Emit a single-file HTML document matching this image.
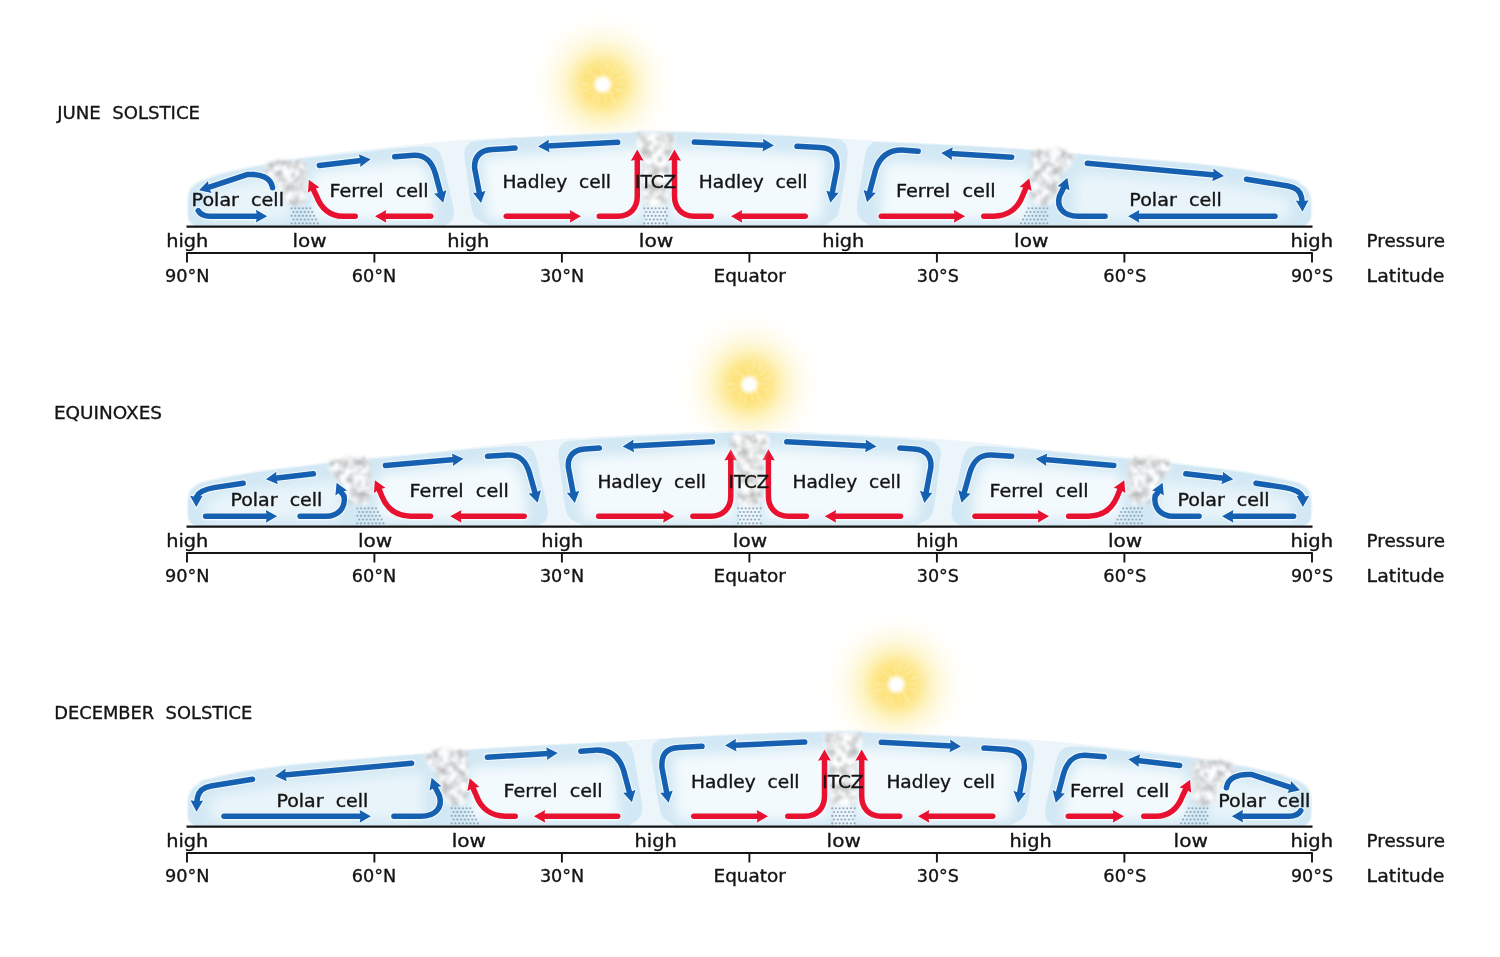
<!DOCTYPE html>
<html lang="en"><head><meta charset="utf-8"><title>Atmospheric circulation cells</title>
<style>html,body{margin:0;padding:0;background:#fff;}body{width:1500px;height:957px;overflow:hidden;}svg{display:block;}</style>
</head><body>
<svg width="1500" height="957" viewBox="0 0 1500 957" font-family="'DejaVu Sans','Liberation Sans',sans-serif">
<defs>
<radialGradient id="sunG" cx="0.5" cy="0.5" r="0.5">
<stop offset="0" stop-color="#fddf6c" stop-opacity="1"/>
<stop offset="0.17" stop-color="#fde071" stop-opacity="1"/>
<stop offset="0.3" stop-color="#fde47d" stop-opacity="0.85"/>
<stop offset="0.45" stop-color="#fdea93" stop-opacity="0.56"/>
<stop offset="0.62" stop-color="#feefaa" stop-opacity="0.3"/>
<stop offset="0.8" stop-color="#fef4c2" stop-opacity="0.12"/>
<stop offset="1" stop-color="#fff8d8" stop-opacity="0"/>
</radialGradient>
<radialGradient id="sunC" cx="0.5" cy="0.5" r="0.5">
<stop offset="0" stop-color="#fff" stop-opacity="1"/>
<stop offset="0.45" stop-color="#fff" stop-opacity="1"/>
<stop offset="0.7" stop-color="#fff" stop-opacity="0.6"/>
<stop offset="1" stop-color="#fff" stop-opacity="0"/>
</radialGradient>
<filter id="b06" x="-20%" y="-20%" width="140%" height="140%"><feGaussianBlur stdDeviation="0.9"/></filter>
<filter id="b1" x="-30%" y="-30%" width="160%" height="160%"><feGaussianBlur stdDeviation="1.5"/></filter>
<filter id="b2" x="-30%" y="-30%" width="160%" height="160%"><feGaussianBlur stdDeviation="2.2"/></filter>
<filter id="cl" x="-30%" y="-30%" width="160%" height="160%" color-interpolation-filters="sRGB"><feGaussianBlur in="SourceAlpha" stdDeviation="2.2" result="a"/><feTurbulence type="fractalNoise" baseFrequency="0.12" numOctaves="2" seed="7" result="n"/><feColorMatrix in="n" type="matrix" values="0.6 0 0 0 0.6  0.6 0 0 0 0.6  0.6 0 0 0 0.6  0 0 0 0 1" result="g"/><feGaussianBlur in="g" stdDeviation="1.1" result="gb"/><feComposite in="gb" in2="a" operator="in"/></filter>
<filter id="b6" x="-30%" y="-50%" width="160%" height="200%"><feGaussianBlur stdDeviation="6"/></filter>
<g id="g1">
<path d="M198,225.7 C190.5,225.7 186.8,221.7 186.8,213.7 L186.8,205 C186.9,203.3 186.8,197.9 187.4,195.0 C188.0,192.1 188.6,189.7 190.2,187.5 C191.8,185.3 194.0,183.3 197.0,181.6 C200.0,179.8 203.8,178.6 208.0,177.0 C212.2,175.4 215.0,174.1 222.0,172.3 C229.0,170.5 242.5,167.7 250.0,166.2 C257.5,164.7 255.8,165.3 267.0,163.4 C278.2,161.5 294.8,157.9 317.0,155.0 C339.2,152.1 375.6,148.5 400.0,146.0 C424.4,143.5 439.1,141.8 463.6,140.0 C488.1,138.2 519.3,136.8 547.0,135.4 C574.7,134.0 612.0,132.1 630.0,131.3 C648.0,130.5 645.0,130.6 655.0,130.6 C665.0,130.6 671.3,130.7 690.0,131.3 C708.7,131.9 740.3,132.7 767.0,134.0 C793.7,135.3 831.2,137.8 850.0,139.0 C868.8,140.2 855.5,139.7 880.0,141.0 C904.5,142.3 963.2,144.6 997.0,146.7 C1030.8,148.8 1046.3,150.3 1083.0,153.4 C1119.7,156.5 1182.8,161.0 1217.0,165.0 C1251.2,169.0 1273.8,174.1 1288.0,177.2 C1302.2,180.3 1298.4,181.2 1302.0,183.5 C1305.6,185.8 1307.8,188.1 1309.5,191.0 C1311.2,193.9 1311.8,199.3 1312.3,201.0 L1312.3,213.7 C1312.3,221.7 1308.5,225.7 1301,225.7 Z" fill="#ecf5fa"/>
<clipPath id="cp1"><path d="M199,225.7 C192,225.7 188.3,221.7 188.3,213.7 L188.3,205 C188.4,203.5 188.4,198.7 188.9,196.0 C189.4,193.3 190.1,191.1 191.6,189.0 C193.1,186.9 195.1,185.0 198.0,183.3 C200.9,181.6 205.0,180.3 209.0,178.8 C213.0,177.3 215.2,176.0 222.0,174.2 C228.8,172.4 242.5,169.5 250.0,168.0 C257.5,166.5 259.3,166.4 267.0,165.2 C274.7,163.9 291.2,161.3 296.0,160.5 L296,225.7 Z"/></clipPath><path d="M199,225.7 C192,225.7 188.3,221.7 188.3,213.7 L188.3,205 C188.4,203.5 188.4,198.7 188.9,196.0 C189.4,193.3 190.1,191.1 191.6,189.0 C193.1,186.9 195.1,185.0 198.0,183.3 C200.9,181.6 205.0,180.3 209.0,178.8 C213.0,177.3 215.2,176.0 222.0,174.2 C228.8,172.4 242.5,169.5 250.0,168.0 C257.5,166.5 259.3,166.4 267.0,165.2 C274.7,163.9 291.2,161.3 296.0,160.5 L296,225.7 Z" fill="#d2e8f4"/><g clip-path="url(#cp1)"><path d="M206,219.7 L206,196 L232,185 L290,176 L290,219.7 Z" fill="#fcfeff" opacity="0.55" filter="url(#b6)"/></g>
<clipPath id="cp2"><path d="M296,225.7 L296,160 C299.5,159.5 299.7,159.0 317.0,157.0 C334.3,155.0 382.2,149.9 400.0,148.2 C417.8,146.5 418.0,146.5 424.0,146.6 C430.0,146.7 433.0,147.1 436.0,149.0 C439.0,150.9 440.2,152.8 442.0,158.0 C443.8,163.2 445.1,171.7 447.0,180.0 C448.9,188.3 452.7,201.3 453.5,208.0 C454.3,214.7 453.6,217.1 452.0,220.0 C450.4,222.9 445.3,224.8 444.0,225.7 Z"/></clipPath><path d="M296,225.7 L296,160 C299.5,159.5 299.7,159.0 317.0,157.0 C334.3,155.0 382.2,149.9 400.0,148.2 C417.8,146.5 418.0,146.5 424.0,146.6 C430.0,146.7 433.0,147.1 436.0,149.0 C439.0,150.9 440.2,152.8 442.0,158.0 C443.8,163.2 445.1,171.7 447.0,180.0 C448.9,188.3 452.7,201.3 453.5,208.0 C454.3,214.7 453.6,217.1 452.0,220.0 C450.4,222.9 445.3,224.8 444.0,225.7 Z" fill="#d2e8f4"/><g clip-path="url(#cp2)"><path d="M312,219.7 L312,172 L420,162 L430,180 L436,219.7 Z" fill="#fcfeff" opacity="0.80" filter="url(#b6)"/></g>
<clipPath id="cp3"><path d="M645,225.7 L490,225.7 C487.7,224.4 479.2,221.4 476.0,218.0 C472.8,214.6 472.6,213.0 471.0,205.0 C469.4,197.0 467.6,178.8 466.5,170.0 C465.4,161.2 464.1,156.3 464.5,152.0 C464.9,147.7 466.4,145.9 469.0,144.0 C471.6,142.1 467.0,141.9 480.0,140.7 C493.0,139.5 522.0,137.9 547.0,136.6 C572.0,135.3 613.7,133.7 630.0,133.0 C646.3,132.3 642.5,132.6 645.0,132.5 Z"/></clipPath><path d="M645,225.7 L490,225.7 C487.7,224.4 479.2,221.4 476.0,218.0 C472.8,214.6 472.6,213.0 471.0,205.0 C469.4,197.0 467.6,178.8 466.5,170.0 C465.4,161.2 464.1,156.3 464.5,152.0 C464.9,147.7 466.4,145.9 469.0,144.0 C471.6,142.1 467.0,141.9 480.0,140.7 C493.0,139.5 522.0,137.9 547.0,136.6 C572.0,135.3 613.7,133.7 630.0,133.0 C646.3,132.3 642.5,132.6 645.0,132.5 Z" fill="#d2e8f4"/><g clip-path="url(#cp3)"><path d="M488,219.7 L483,158 L642,148 L642,219.7 Z" fill="#fcfeff" opacity="0.80" filter="url(#b6)"/></g>
<clipPath id="cp4"><path d="M665,225.7 L665,132.5 C669.2,132.5 673.0,132.2 690.0,132.6 C707.0,133.0 743.7,134.2 767.0,135.2 C790.3,136.2 817.3,137.4 830.0,138.5 C842.7,139.6 840.1,139.8 843.0,142.0 C845.9,144.2 847.2,146.5 847.5,152.0 C847.8,157.5 846.2,166.2 845.0,175.0 C843.8,183.8 841.5,198.0 840.0,205.0 C838.5,212.0 838.7,213.6 836.0,217.0 C833.3,220.4 826.0,224.2 824.0,225.7 Z"/></clipPath><path d="M665,225.7 L665,132.5 C669.2,132.5 673.0,132.2 690.0,132.6 C707.0,133.0 743.7,134.2 767.0,135.2 C790.3,136.2 817.3,137.4 830.0,138.5 C842.7,139.6 840.1,139.8 843.0,142.0 C845.9,144.2 847.2,146.5 847.5,152.0 C847.8,157.5 846.2,166.2 845.0,175.0 C843.8,183.8 841.5,198.0 840.0,205.0 C838.5,212.0 838.7,213.6 836.0,217.0 C833.3,220.4 826.0,224.2 824.0,225.7 Z" fill="#d2e8f4"/><g clip-path="url(#cp4)"><path d="M669,219.7 L669,148 L826,156 L822,219.7 Z" fill="#fcfeff" opacity="0.80" filter="url(#b6)"/></g>
<clipPath id="cp5"><path d="M1045,225.7 L870,225.7 C868.3,224.4 862.2,221.3 860.0,218.0 C857.8,214.7 856.7,213.2 857.0,206.0 C857.3,198.8 860.5,184.0 862.0,175.0 C863.5,166.0 864.3,157.2 866.0,152.0 C867.7,146.8 869.0,145.6 872.0,144.0 C875.0,142.4 863.2,141.6 884.0,142.3 C904.8,143.0 970.2,146.5 997.0,148.0 C1023.8,149.5 1037.0,150.9 1045.0,151.5 Z"/></clipPath><path d="M1045,225.7 L870,225.7 C868.3,224.4 862.2,221.3 860.0,218.0 C857.8,214.7 856.7,213.2 857.0,206.0 C857.3,198.8 860.5,184.0 862.0,175.0 C863.5,166.0 864.3,157.2 866.0,152.0 C867.7,146.8 869.0,145.6 872.0,144.0 C875.0,142.4 863.2,141.6 884.0,142.3 C904.8,143.0 970.2,146.5 997.0,148.0 C1023.8,149.5 1037.0,150.9 1045.0,151.5 Z" fill="#d2e8f4"/><g clip-path="url(#cp5)"><path d="M880,219.7 L885,162 L1030,168 L1030,219.7 Z" fill="#fcfeff" opacity="0.80" filter="url(#b6)"/></g>
<clipPath id="cp6"><path d="M1045,225.7 L1045,152 C1051.3,152.5 1054.3,152.4 1083.0,154.8 C1111.7,157.2 1183.0,162.5 1217.0,166.5 C1251.0,170.5 1273.1,175.6 1287.0,178.7 C1300.9,181.8 1297.0,182.6 1300.5,184.8 C1304.0,187.0 1306.3,189.1 1308.0,192.0 C1309.7,194.9 1310.3,200.3 1310.8,202.0 L1310.8,213.7 C1310.8,221.7 1307,225.7 1300,225.7 Z"/></clipPath><path d="M1045,225.7 L1045,152 C1051.3,152.5 1054.3,152.4 1083.0,154.8 C1111.7,157.2 1183.0,162.5 1217.0,166.5 C1251.0,170.5 1273.1,175.6 1287.0,178.7 C1300.9,181.8 1297.0,182.6 1300.5,184.8 C1304.0,187.0 1306.3,189.1 1308.0,192.0 C1309.7,194.9 1310.3,200.3 1310.8,202.0 L1310.8,213.7 C1310.8,221.7 1307,225.7 1300,225.7 Z" fill="#d2e8f4"/><g clip-path="url(#cp6)"><path d="M1075,219.7 L1075,172 L1220,184 L1290,197 L1290,219.7 Z" fill="#fcfeff" opacity="0.55" filter="url(#b6)"/></g>
<g fill="#8faabd"><circle cx="291.6" cy="208.3" r="1.1"/><circle cx="295.3" cy="208.3" r="1.1"/><circle cx="299.1" cy="208.3" r="1.1"/><circle cx="302.8" cy="208.3" r="1.1"/><circle cx="306.6" cy="208.3" r="1.1"/><circle cx="310.3" cy="208.3" r="1.1"/><circle cx="293.5" cy="212.0" r="1.1"/><circle cx="297.2" cy="212.0" r="1.1"/><circle cx="301.0" cy="212.0" r="1.1"/><circle cx="304.7" cy="212.0" r="1.1"/><circle cx="308.4" cy="212.0" r="1.1"/><circle cx="312.2" cy="212.0" r="1.1"/><circle cx="291.6" cy="215.8" r="1.1"/><circle cx="295.3" cy="215.8" r="1.1"/><circle cx="299.1" cy="215.8" r="1.1"/><circle cx="302.8" cy="215.8" r="1.1"/><circle cx="306.6" cy="215.8" r="1.1"/><circle cx="310.3" cy="215.8" r="1.1"/><circle cx="314.0" cy="215.8" r="1.1"/><circle cx="293.5" cy="219.5" r="1.1"/><circle cx="297.2" cy="219.5" r="1.1"/><circle cx="301.0" cy="219.5" r="1.1"/><circle cx="304.7" cy="219.5" r="1.1"/><circle cx="308.4" cy="219.5" r="1.1"/><circle cx="312.2" cy="219.5" r="1.1"/><circle cx="315.9" cy="219.5" r="1.1"/><circle cx="291.6" cy="223.3" r="1.1"/><circle cx="295.3" cy="223.3" r="1.1"/><circle cx="299.1" cy="223.3" r="1.1"/><circle cx="302.8" cy="223.3" r="1.1"/><circle cx="306.6" cy="223.3" r="1.1"/><circle cx="310.3" cy="223.3" r="1.1"/><circle cx="314.0" cy="223.3" r="1.1"/><circle cx="317.8" cy="223.3" r="1.1"/></g>
<g fill="#8faabd"><circle cx="644.4" cy="208.3" r="1.1"/><circle cx="648.1" cy="208.3" r="1.1"/><circle cx="651.9" cy="208.3" r="1.1"/><circle cx="655.6" cy="208.3" r="1.1"/><circle cx="659.4" cy="208.3" r="1.1"/><circle cx="663.1" cy="208.3" r="1.1"/><circle cx="666.8" cy="208.3" r="1.1"/><circle cx="646.3" cy="212.0" r="1.1"/><circle cx="650.0" cy="212.0" r="1.1"/><circle cx="653.8" cy="212.0" r="1.1"/><circle cx="657.5" cy="212.0" r="1.1"/><circle cx="661.2" cy="212.0" r="1.1"/><circle cx="665.0" cy="212.0" r="1.1"/><circle cx="644.4" cy="215.8" r="1.1"/><circle cx="648.1" cy="215.8" r="1.1"/><circle cx="651.9" cy="215.8" r="1.1"/><circle cx="655.6" cy="215.8" r="1.1"/><circle cx="659.4" cy="215.8" r="1.1"/><circle cx="663.1" cy="215.8" r="1.1"/><circle cx="666.8" cy="215.8" r="1.1"/><circle cx="646.3" cy="219.5" r="1.1"/><circle cx="650.0" cy="219.5" r="1.1"/><circle cx="653.8" cy="219.5" r="1.1"/><circle cx="657.5" cy="219.5" r="1.1"/><circle cx="661.2" cy="219.5" r="1.1"/><circle cx="665.0" cy="219.5" r="1.1"/><circle cx="644.4" cy="223.3" r="1.1"/><circle cx="648.1" cy="223.3" r="1.1"/><circle cx="651.9" cy="223.3" r="1.1"/><circle cx="655.6" cy="223.3" r="1.1"/><circle cx="659.4" cy="223.3" r="1.1"/><circle cx="663.1" cy="223.3" r="1.1"/><circle cx="666.8" cy="223.3" r="1.1"/></g>
<g fill="#8faabd"><circle cx="1028.6" cy="208.3" r="1.1"/><circle cx="1032.3" cy="208.3" r="1.1"/><circle cx="1036.1" cy="208.3" r="1.1"/><circle cx="1039.8" cy="208.3" r="1.1"/><circle cx="1043.6" cy="208.3" r="1.1"/><circle cx="1047.3" cy="208.3" r="1.1"/><circle cx="1026.7" cy="212.0" r="1.1"/><circle cx="1030.5" cy="212.0" r="1.1"/><circle cx="1034.2" cy="212.0" r="1.1"/><circle cx="1037.9" cy="212.0" r="1.1"/><circle cx="1041.7" cy="212.0" r="1.1"/><circle cx="1045.4" cy="212.0" r="1.1"/><circle cx="1024.9" cy="215.8" r="1.1"/><circle cx="1028.6" cy="215.8" r="1.1"/><circle cx="1032.3" cy="215.8" r="1.1"/><circle cx="1036.1" cy="215.8" r="1.1"/><circle cx="1039.8" cy="215.8" r="1.1"/><circle cx="1043.6" cy="215.8" r="1.1"/><circle cx="1047.3" cy="215.8" r="1.1"/><circle cx="1023.0" cy="219.5" r="1.1"/><circle cx="1026.7" cy="219.5" r="1.1"/><circle cx="1030.5" cy="219.5" r="1.1"/><circle cx="1034.2" cy="219.5" r="1.1"/><circle cx="1037.9" cy="219.5" r="1.1"/><circle cx="1041.7" cy="219.5" r="1.1"/><circle cx="1045.4" cy="219.5" r="1.1"/><circle cx="1021.1" cy="223.3" r="1.1"/><circle cx="1024.9" cy="223.3" r="1.1"/><circle cx="1028.6" cy="223.3" r="1.1"/><circle cx="1032.3" cy="223.3" r="1.1"/><circle cx="1036.1" cy="223.3" r="1.1"/><circle cx="1039.8" cy="223.3" r="1.1"/><circle cx="1043.6" cy="223.3" r="1.1"/><circle cx="1047.3" cy="223.3" r="1.1"/></g>
<path d="M306.5,164.0 L300.5,159.0 L291.5,161.0 L281.5,160.0 L269.5,162.0 L263.5,167.0 L266.5,175.0 L275.5,184.0 L281.5,191.5 L285.5,202.5 L293.5,205.5 L303.5,204.5 L307.5,193.5 L307.5,178.0Z" fill="#ddd" filter="url(#cl)" opacity="0.92"/>
<path d="M636.2,137.0 L639.7,132.3 L648.7,133.0 L655.7,134.5 L662.7,133.0 L671.7,132.3 L675.2,137.0 L674.7,145.0 L670.7,153.0 L668.2,162.0 L668.7,200.0 L663.7,205.5 L647.7,205.5 L642.7,200.0 L643.2,162.0 L640.7,153.0 L636.7,145.0Z" fill="#ddd" filter="url(#cl)" opacity="0.92"/>
<path d="M1032.0,152.5 L1038.0,147.5 L1047.0,149.5 L1057.0,148.5 L1069.0,150.5 L1075.0,155.5 L1072.0,163.5 L1063.0,172.5 L1057.0,191.5 L1053.0,202.5 L1045.0,205.5 L1035.0,204.5 L1031.0,193.5 L1031.0,166.5Z" fill="#ddd" filter="url(#cl)" opacity="0.92"/>
<g fill="#f4fafd" stroke="#f4fafd" stroke-linecap="round" stroke-linejoin="round" opacity="0.92"><path d="M272.6,187.7 C271,178 261,173.3 247,174.6 L207.9,187.6" fill="none" stroke-width="7.7"/><path d="M199.0,190.3 L208.0,181.0 L208.7,187.4 L211.6,193.1 Z" stroke-width="2"/><path d="M198.2,210.6 C200,214 204,216.2 210,216.2 L257.9,216.2" fill="none" stroke-width="7.7"/><path d="M267.2,216.2 L255.9,222.5 L257.1,216.2 L255.9,209.8 Z" stroke-width="2"/><path d="M319.3,165.4 L361.5,160.4" fill="none" stroke-width="7.7"/><path d="M370.7,159.3 L360.2,166.9 L360.7,160.5 L358.7,154.3 Z" stroke-width="2"/><path d="M394.7,156.7 L414,155.3 C426,155 432,162 435.5,174 L440.8,193.7" fill="none" stroke-width="7.7"/><path d="M443.2,202.7 L434.1,193.4 L440.6,192.9 L446.4,190.1 Z" stroke-width="2"/><path d="M430.7,216.3 L384.3,216.3" fill="none" stroke-width="7.7"/><path d="M375.0,216.3 L386.3,210.0 L385.1,216.3 L386.3,222.7 Z" stroke-width="2"/><path d="M355.2,216.3 L343,216.3 C330,216 321,208 316.5,196 L312.8,188.2" fill="none" stroke-width="7.7"/><path d="M308.9,179.8 L319.4,187.4 L313.2,189.0 L307.9,192.7 Z" stroke-width="2"/><path d="M515.0,148.1 L492,149.4 C480.5,150.2 474.2,156 474.6,168 L479.5,193.8" fill="none" stroke-width="7.7"/><path d="M481.0,203.0 L473.0,192.8 L479.4,193.0 L485.5,190.8 Z" stroke-width="2"/><path d="M617.7,142.3 L547.3,146.0" fill="none" stroke-width="7.7"/><path d="M538.0,146.5 L548.9,139.6 L548.1,146.0 L549.6,152.2 Z" stroke-width="2"/><path d="M506.3,216.3 L571.7,216.3" fill="none" stroke-width="7.7"/><path d="M581.0,216.3 L569.7,222.7 L570.9,216.3 L569.7,210.0 Z" stroke-width="2"/><path d="M599.3,216.3 L618,216.3 C630,216.3 637.3,208 637.3,196 L637.3,158.7" fill="none" stroke-width="7.7"/><path d="M637.3,149.4 L643.6,160.7 L637.3,159.5 L630.9,160.7 Z" stroke-width="2"/><path d="M711.2,216.3 L694,216.3 C682,216.3 674.5,208 674.5,196 L674.5,158.7" fill="none" stroke-width="7.7"/><path d="M674.5,149.4 L680.9,160.7 L674.5,159.5 L668.1,160.7 Z" stroke-width="2"/><path d="M805.2,216.3 L740.3,216.3" fill="none" stroke-width="7.7"/><path d="M731.0,216.3 L742.3,210.0 L741.1,216.3 L742.3,222.7 Z" stroke-width="2"/><path d="M694.3,142.1 L764.7,145.2" fill="none" stroke-width="7.7"/><path d="M774.0,145.6 L762.4,151.4 L763.9,145.2 L763.0,138.8 Z" stroke-width="2"/><path d="M797.0,146.3 L820,147.5 C833,148 838,155 837,168 L832.1,193.6" fill="none" stroke-width="7.7"/><path d="M830.4,202.7 L826.3,190.4 L832.3,192.8 L838.7,192.8 Z" stroke-width="2"/><path d="M918.2,151.3 L905,150.2 C890,149.2 880,156 875.5,170 L869.3,193.2" fill="none" stroke-width="7.7"/><path d="M867.1,202.2 L863.5,189.7 L869.4,192.4 L875.9,192.7 Z" stroke-width="2"/><path d="M1011.7,157.2 L950.5,153.5" fill="none" stroke-width="7.7"/><path d="M941.2,152.9 L952.9,147.3 L951.3,153.5 L952.1,159.9 Z" stroke-width="2"/><path d="M881.3,216.3 L955.8,216.3" fill="none" stroke-width="7.7"/><path d="M965.1,216.3 L953.8,222.7 L955.0,216.3 L953.8,210.0 Z" stroke-width="2"/><path d="M983.8,216.3 L994,216.2 C1008,216 1018,208 1022.5,196 L1026.3,187.1" fill="none" stroke-width="7.7"/><path d="M1029.3,178.3 L1031.6,191.1 L1026.0,187.8 L1019.6,186.9 Z" stroke-width="2"/><path d="M1105.1,216.3 L1078,216.3 C1064,216.3 1056,208 1059.5,196 L1064.2,186.5" fill="none" stroke-width="7.7"/><path d="M1067.4,177.8 L1069.5,190.6 L1063.9,187.3 L1057.6,186.2 Z" stroke-width="2"/><path d="M1275.0,216.3 L1137.4,216.3" fill="none" stroke-width="7.7"/><path d="M1128.1,216.3 L1139.4,210.0 L1138.2,216.3 L1139.4,222.7 Z" stroke-width="2"/><path d="M1087.3,163.2 L1214.7,175.1" fill="none" stroke-width="7.7"/><path d="M1224.0,176.0 L1212.2,181.3 L1213.9,175.1 L1213.3,168.6 Z" stroke-width="2"/><path d="M1246.5,179.2 L1288,186 C1295,187.3 1300,190.5 1301.4,197 L1302.2,202.4" fill="none" stroke-width="7.7"/><path d="M1302.5,211.7 L1295.8,200.6 L1302.1,201.6 L1308.5,200.2 Z" stroke-width="2"/></g>
<g fill="none" stroke="#1660b2" stroke-width="5.5" stroke-linecap="round" stroke-linejoin="round"><path d="M272.6,187.7 C271,178 261,173.3 247,174.6 L207.9,187.6"/><path d="M198.2,210.6 C200,214 204,216.2 210,216.2 L257.9,216.2"/><path d="M319.3,165.4 L361.5,160.4"/><path d="M394.7,156.7 L414,155.3 C426,155 432,162 435.5,174 L440.8,193.7"/><path d="M515.0,148.1 L492,149.4 C480.5,150.2 474.2,156 474.6,168 L479.5,193.8"/><path d="M617.7,142.3 L547.3,146.0"/><path d="M694.3,142.1 L764.7,145.2"/><path d="M797.0,146.3 L820,147.5 C833,148 838,155 837,168 L832.1,193.6"/><path d="M918.2,151.3 L905,150.2 C890,149.2 880,156 875.5,170 L869.3,193.2"/><path d="M1011.7,157.2 L950.5,153.5"/><path d="M1105.1,216.3 L1078,216.3 C1064,216.3 1056,208 1059.5,196 L1064.2,186.5"/><path d="M1275.0,216.3 L1137.4,216.3"/><path d="M1087.3,163.2 L1214.7,175.1"/><path d="M1246.5,179.2 L1288,186 C1295,187.3 1300,190.5 1301.4,197 L1302.2,202.4"/></g><g fill="#1660b2"><path d="M199.0,190.3 L208.0,181.0 L208.7,187.4 L211.6,193.1 Z"/><path d="M267.2,216.2 L255.9,222.5 L257.1,216.2 L255.9,209.8 Z"/><path d="M370.7,159.3 L360.2,166.9 L360.7,160.5 L358.7,154.3 Z"/><path d="M443.2,202.7 L434.1,193.4 L440.6,192.9 L446.4,190.1 Z"/><path d="M481.0,203.0 L473.0,192.8 L479.4,193.0 L485.5,190.8 Z"/><path d="M538.0,146.5 L548.9,139.6 L548.1,146.0 L549.6,152.2 Z"/><path d="M774.0,145.6 L762.4,151.4 L763.9,145.2 L763.0,138.8 Z"/><path d="M830.4,202.7 L826.3,190.4 L832.3,192.8 L838.7,192.8 Z"/><path d="M867.1,202.2 L863.5,189.7 L869.4,192.4 L875.9,192.7 Z"/><path d="M941.2,152.9 L952.9,147.3 L951.3,153.5 L952.1,159.9 Z"/><path d="M1067.4,177.8 L1069.5,190.6 L1063.9,187.3 L1057.6,186.2 Z"/><path d="M1128.1,216.3 L1139.4,210.0 L1138.2,216.3 L1139.4,222.7 Z"/><path d="M1224.0,176.0 L1212.2,181.3 L1213.9,175.1 L1213.3,168.6 Z"/><path d="M1302.5,211.7 L1295.8,200.6 L1302.1,201.6 L1308.5,200.2 Z"/></g>
<g fill="none" stroke="#e8112f" stroke-width="5.5" stroke-linecap="round" stroke-linejoin="round"><path d="M430.7,216.3 L384.3,216.3"/><path d="M355.2,216.3 L343,216.3 C330,216 321,208 316.5,196 L312.8,188.2"/><path d="M506.3,216.3 L571.7,216.3"/><path d="M599.3,216.3 L618,216.3 C630,216.3 637.3,208 637.3,196 L637.3,158.7"/><path d="M711.2,216.3 L694,216.3 C682,216.3 674.5,208 674.5,196 L674.5,158.7"/><path d="M805.2,216.3 L740.3,216.3"/><path d="M881.3,216.3 L955.8,216.3"/><path d="M983.8,216.3 L994,216.2 C1008,216 1018,208 1022.5,196 L1026.3,187.1"/></g><g fill="#e8112f"><path d="M375.0,216.3 L386.3,210.0 L385.1,216.3 L386.3,222.7 Z"/><path d="M308.9,179.8 L319.4,187.4 L313.2,189.0 L307.9,192.7 Z"/><path d="M581.0,216.3 L569.7,222.7 L570.9,216.3 L569.7,210.0 Z"/><path d="M637.3,149.4 L643.6,160.7 L637.3,159.5 L630.9,160.7 Z"/><path d="M674.5,149.4 L680.9,160.7 L674.5,159.5 L668.1,160.7 Z"/><path d="M731.0,216.3 L742.3,210.0 L741.1,216.3 L742.3,222.7 Z"/><path d="M965.1,216.3 L953.8,222.7 L955.0,216.3 L953.8,210.0 Z"/><path d="M1029.3,178.3 L1031.6,191.1 L1026.0,187.8 L1019.6,186.9 Z"/></g>
</g>
<g id="g2">
<clipPath id="cp7"><path d="M199,225.7 C192,225.7 188.3,221.7 188.3,213.7 L188.3,206 C188.4,204.5 188.4,199.6 188.9,197.0 C189.4,194.4 190.1,192.3 191.6,190.3 C193.1,188.3 195.3,186.4 198.0,185.0 C200.7,183.6 202.1,183.0 208.0,181.6 C213.9,180.2 223.8,178.3 233.6,176.5 C243.4,174.7 253.1,172.9 267.0,171.0 C280.9,169.1 301.2,166.9 317.0,165.0 C332.8,163.1 354.5,160.4 362.0,159.5 L362,225.7 Z"/></clipPath><path d="M199,225.7 C192,225.7 188.3,221.7 188.3,213.7 L188.3,206 C188.4,204.5 188.4,199.6 188.9,197.0 C189.4,194.4 190.1,192.3 191.6,190.3 C193.1,188.3 195.3,186.4 198.0,185.0 C200.7,183.6 202.1,183.0 208.0,181.6 C213.9,180.2 223.8,178.3 233.6,176.5 C243.4,174.7 253.1,172.9 267.0,171.0 C280.9,169.1 301.2,166.9 317.0,165.0 C332.8,163.1 354.5,160.4 362.0,159.5 L362,225.7 Z" fill="#d2e8f4"/><g clip-path="url(#cp7)"><path d="M206,219.7 L206,200 L232,192 L340,180 L340,219.7 Z" fill="#fcfeff" opacity="0.55" filter="url(#b6)"/></g>
<clipPath id="cp8"><path d="M362,225.7 L362,160 C368.3,159.4 383.1,158.3 400.0,156.6 C416.9,154.9 444.1,151.8 463.6,150.0 C483.1,148.2 505.9,146.2 517.0,146.0 C528.1,145.8 526.8,146.7 530.0,148.5 C533.2,150.3 534.2,151.8 536.0,157.0 C537.8,162.2 539.1,171.5 541.0,180.0 C542.9,188.5 546.5,201.3 547.3,208.0 C548.1,214.7 547.5,217.1 546.0,220.0 C544.5,222.9 539.3,224.8 538.0,225.7 Z"/></clipPath><path d="M362,225.7 L362,160 C368.3,159.4 383.1,158.3 400.0,156.6 C416.9,154.9 444.1,151.8 463.6,150.0 C483.1,148.2 505.9,146.2 517.0,146.0 C528.1,145.8 526.8,146.7 530.0,148.5 C533.2,150.3 534.2,151.8 536.0,157.0 C537.8,162.2 539.1,171.5 541.0,180.0 C542.9,188.5 546.5,201.3 547.3,208.0 C548.1,214.7 547.5,217.1 546.0,220.0 C544.5,222.9 539.3,224.8 538.0,225.7 Z" fill="#d2e8f4"/><g clip-path="url(#cp8)"><path d="M378,219.7 L378,174 L512,162 L522,180 L528,219.7 Z" fill="#fcfeff" opacity="0.80" filter="url(#b6)"/></g>
<clipPath id="cp9"><path d="M739,225.7 L584,225.7 C581.7,224.4 573.2,221.4 570.0,218.0 C566.8,214.6 566.6,213.0 565.0,205.0 C563.4,197.0 561.6,178.8 560.5,170.0 C559.4,161.2 558.1,156.3 558.5,152.0 C558.9,147.7 560.4,145.9 563.0,144.0 C565.6,142.1 561.0,141.9 574.0,140.7 C587.0,139.5 616.0,137.9 641.0,136.6 C666.0,135.3 707.7,133.7 724.0,133.0 C740.3,132.3 736.5,132.6 739.0,132.5 Z"/></clipPath><path d="M739,225.7 L584,225.7 C581.7,224.4 573.2,221.4 570.0,218.0 C566.8,214.6 566.6,213.0 565.0,205.0 C563.4,197.0 561.6,178.8 560.5,170.0 C559.4,161.2 558.1,156.3 558.5,152.0 C558.9,147.7 560.4,145.9 563.0,144.0 C565.6,142.1 561.0,141.9 574.0,140.7 C587.0,139.5 616.0,137.9 641.0,136.6 C666.0,135.3 707.7,133.7 724.0,133.0 C740.3,132.3 736.5,132.6 739.0,132.5 Z" fill="#d2e8f4"/><g clip-path="url(#cp9)"><path d="M582,219.7 L577,158 L736,148 L736,219.7 Z" fill="#fcfeff" opacity="0.80" filter="url(#b6)"/></g>
<g fill="#8faabd"><circle cx="357.3" cy="208.3" r="1.1"/><circle cx="361.0" cy="208.3" r="1.1"/><circle cx="364.8" cy="208.3" r="1.1"/><circle cx="368.5" cy="208.3" r="1.1"/><circle cx="372.3" cy="208.3" r="1.1"/><circle cx="376.0" cy="208.3" r="1.1"/><circle cx="359.2" cy="212.0" r="1.1"/><circle cx="362.9" cy="212.0" r="1.1"/><circle cx="366.7" cy="212.0" r="1.1"/><circle cx="370.4" cy="212.0" r="1.1"/><circle cx="374.1" cy="212.0" r="1.1"/><circle cx="377.9" cy="212.0" r="1.1"/><circle cx="357.3" cy="215.8" r="1.1"/><circle cx="361.0" cy="215.8" r="1.1"/><circle cx="364.8" cy="215.8" r="1.1"/><circle cx="368.5" cy="215.8" r="1.1"/><circle cx="372.3" cy="215.8" r="1.1"/><circle cx="376.0" cy="215.8" r="1.1"/><circle cx="379.7" cy="215.8" r="1.1"/><circle cx="359.2" cy="219.5" r="1.1"/><circle cx="362.9" cy="219.5" r="1.1"/><circle cx="366.7" cy="219.5" r="1.1"/><circle cx="370.4" cy="219.5" r="1.1"/><circle cx="374.1" cy="219.5" r="1.1"/><circle cx="377.9" cy="219.5" r="1.1"/><circle cx="381.6" cy="219.5" r="1.1"/><circle cx="357.3" cy="223.3" r="1.1"/><circle cx="361.0" cy="223.3" r="1.1"/><circle cx="364.8" cy="223.3" r="1.1"/><circle cx="368.5" cy="223.3" r="1.1"/><circle cx="372.3" cy="223.3" r="1.1"/><circle cx="376.0" cy="223.3" r="1.1"/><circle cx="379.7" cy="223.3" r="1.1"/><circle cx="383.5" cy="223.3" r="1.1"/></g>
<path d="M370.5,161.0 L364.5,156.0 L355.5,158.0 L345.5,157.0 L333.5,159.0 L327.5,164.0 L330.5,172.0 L339.5,181.0 L345.5,191.5 L349.5,202.5 L357.5,205.5 L367.5,204.5 L371.5,193.5 L371.5,175.0Z" fill="#ddd" filter="url(#cl)" opacity="0.92"/>
<g fill="#f4fafd" stroke="#f4fafd" stroke-linecap="round" stroke-linejoin="round" opacity="0.92"><path d="M243.2,183.2 L214,187.6 C205.5,189 199,191.5 196.8,196.5 L196.3,197.8" fill="none" stroke-width="7.7"/><path d="M196.3,207.1 L190.0,195.8 L196.3,197.0 L202.7,195.8 Z" stroke-width="2"/><path d="M313.4,173.7 L275.1,178.2" fill="none" stroke-width="7.7"/><path d="M265.9,179.3 L276.4,171.7 L275.9,178.1 L277.9,184.3 Z" stroke-width="2"/><path d="M205.6,216.3 L267.8,216.3" fill="none" stroke-width="7.7"/><path d="M277.1,216.3 L265.8,222.7 L267.0,216.3 L265.8,210.0 Z" stroke-width="2"/><path d="M300.1,216.3 L326,216.3 C338,216 346,208 344,196 L340.4,191.2" fill="none" stroke-width="7.7"/><path d="M336.6,182.7 L347.0,190.4 L340.7,191.9 L335.4,195.6 Z" stroke-width="2"/><path d="M385.4,165.5 L454.3,159.6" fill="none" stroke-width="7.7"/><path d="M463.6,158.8 L452.9,166.1 L453.5,159.7 L451.8,153.4 Z" stroke-width="2"/><path d="M487.5,156.3 L508,155 C520,154.6 526,161 529.5,173 L535.3,193.7" fill="none" stroke-width="7.7"/><path d="M537.7,202.7 L528.6,193.4 L535.1,192.9 L540.9,190.1 Z" stroke-width="2"/><path d="M524.2,216.3 L459.5,216.3" fill="none" stroke-width="7.7"/><path d="M450.2,216.3 L461.5,210.0 L460.3,216.3 L461.5,222.7 Z" stroke-width="2"/><path d="M430.5,216.3 L411,216.3 C397,216 387,209 382,196.5 L378.8,188.6" fill="none" stroke-width="7.7"/><path d="M374.9,180.2 L385.4,187.8 L379.2,189.4 L373.9,193.1 Z" stroke-width="2"/><path d="M599.4,147.9 L585,149 C574,149.8 567.6,155.5 568.3,167 L573.3,193.7" fill="none" stroke-width="7.7"/><path d="M574.8,202.9 L566.8,192.7 L573.2,192.9 L579.3,190.7 Z" stroke-width="2"/><path d="M712.4,141.8 L631.9,145.9" fill="none" stroke-width="7.7"/><path d="M622.6,146.4 L633.6,139.5 L632.7,145.9 L634.2,152.2 Z" stroke-width="2"/><path d="M598.7,216.3 L665.1,216.3" fill="none" stroke-width="7.7"/><path d="M674.4,216.3 L663.1,222.7 L664.3,216.3 L663.1,210.0 Z" stroke-width="2"/><path d="M692.9,216.3 L711,216.3 C723,216.3 730.8,208 730.8,196 L730.8,158.5" fill="none" stroke-width="7.7"/><path d="M730.8,149.2 L737.1,160.5 L730.8,159.3 L724.4,160.5 Z" stroke-width="2"/></g>
<g fill="none" stroke="#1660b2" stroke-width="5.5" stroke-linecap="round" stroke-linejoin="round"><path d="M243.2,183.2 L214,187.6 C205.5,189 199,191.5 196.8,196.5 L196.3,197.8"/><path d="M313.4,173.7 L275.1,178.2"/><path d="M205.6,216.3 L267.8,216.3"/><path d="M300.1,216.3 L326,216.3 C338,216 346,208 344,196 L340.4,191.2"/><path d="M385.4,165.5 L454.3,159.6"/><path d="M487.5,156.3 L508,155 C520,154.6 526,161 529.5,173 L535.3,193.7"/><path d="M599.4,147.9 L585,149 C574,149.8 567.6,155.5 568.3,167 L573.3,193.7"/><path d="M712.4,141.8 L631.9,145.9"/></g><g fill="#1660b2"><path d="M196.3,207.1 L190.0,195.8 L196.3,197.0 L202.7,195.8 Z"/><path d="M265.9,179.3 L276.4,171.7 L275.9,178.1 L277.9,184.3 Z"/><path d="M277.1,216.3 L265.8,222.7 L267.0,216.3 L265.8,210.0 Z"/><path d="M336.6,182.7 L347.0,190.4 L340.7,191.9 L335.4,195.6 Z"/><path d="M463.6,158.8 L452.9,166.1 L453.5,159.7 L451.8,153.4 Z"/><path d="M537.7,202.7 L528.6,193.4 L535.1,192.9 L540.9,190.1 Z"/><path d="M574.8,202.9 L566.8,192.7 L573.2,192.9 L579.3,190.7 Z"/><path d="M622.6,146.4 L633.6,139.5 L632.7,145.9 L634.2,152.2 Z"/></g>
<g fill="none" stroke="#e8112f" stroke-width="5.5" stroke-linecap="round" stroke-linejoin="round"><path d="M524.2,216.3 L459.5,216.3"/><path d="M430.5,216.3 L411,216.3 C397,216 387,209 382,196.5 L378.8,188.6"/><path d="M598.7,216.3 L665.1,216.3"/><path d="M692.9,216.3 L711,216.3 C723,216.3 730.8,208 730.8,196 L730.8,158.5"/></g><g fill="#e8112f"><path d="M450.2,216.3 L461.5,210.0 L460.3,216.3 L461.5,222.7 Z"/><path d="M374.9,180.2 L385.4,187.8 L379.2,189.4 L373.9,193.1 Z"/><path d="M674.4,216.3 L663.1,222.7 L664.3,216.3 L663.1,210.0 Z"/><path d="M730.8,149.2 L737.1,160.5 L730.8,159.3 L724.4,160.5 Z"/></g>
</g>
</defs>
<circle cx="602.7" cy="84.5" r="76" fill="url(#sunG)"/><g stroke="#fffbe6" stroke-opacity="0.55" stroke-width="1.3" filter="url(#b06)"><line x1="602.7" y1="84.5" x2="622.1" y2="83.4"/><line x1="602.7" y1="84.5" x2="621.7" y2="90.8"/><line x1="602.7" y1="84.5" x2="613.7" y2="94.2"/><line x1="602.7" y1="84.5" x2="615.8" y2="102.6"/><line x1="602.7" y1="84.5" x2="606.3" y2="100.4"/><line x1="602.7" y1="84.5" x2="597.6" y2="102.5"/><line x1="602.7" y1="84.5" x2="592.2" y2="100.0"/><line x1="602.7" y1="84.5" x2="590.5" y2="94.1"/><line x1="602.7" y1="84.5" x2="581.2" y2="91.7"/><line x1="602.7" y1="84.5" x2="581.3" y2="84.4"/><line x1="602.7" y1="84.5" x2="589.1" y2="79.0"/><line x1="602.7" y1="84.5" x2="588.2" y2="70.9"/><line x1="602.7" y1="84.5" x2="595.0" y2="72.4"/><line x1="602.7" y1="84.5" x2="600.9" y2="65.9"/><line x1="602.7" y1="84.5" x2="607.7" y2="62.3"/><line x1="602.7" y1="84.5" x2="615.2" y2="64.9"/><line x1="602.7" y1="84.5" x2="619.2" y2="70.0"/><line x1="602.7" y1="84.5" x2="624.6" y2="76.3"/></g><circle cx="602.7" cy="84.5" r="10.5" fill="url(#sunC)"/>
<circle cx="749.4" cy="384.5" r="76" fill="url(#sunG)"/><g stroke="#fffbe6" stroke-opacity="0.55" stroke-width="1.3" filter="url(#b06)"><line x1="749.4" y1="384.5" x2="768.8" y2="383.4"/><line x1="749.4" y1="384.5" x2="768.4" y2="390.8"/><line x1="749.4" y1="384.5" x2="760.4" y2="394.2"/><line x1="749.4" y1="384.5" x2="762.5" y2="402.6"/><line x1="749.4" y1="384.5" x2="753.0" y2="400.4"/><line x1="749.4" y1="384.5" x2="744.3" y2="402.5"/><line x1="749.4" y1="384.5" x2="738.9" y2="400.0"/><line x1="749.4" y1="384.5" x2="737.2" y2="394.1"/><line x1="749.4" y1="384.5" x2="727.9" y2="391.7"/><line x1="749.4" y1="384.5" x2="728.0" y2="384.4"/><line x1="749.4" y1="384.5" x2="735.8" y2="379.0"/><line x1="749.4" y1="384.5" x2="734.9" y2="370.9"/><line x1="749.4" y1="384.5" x2="741.7" y2="372.4"/><line x1="749.4" y1="384.5" x2="747.6" y2="365.9"/><line x1="749.4" y1="384.5" x2="754.4" y2="362.3"/><line x1="749.4" y1="384.5" x2="761.9" y2="364.9"/><line x1="749.4" y1="384.5" x2="765.9" y2="370.0"/><line x1="749.4" y1="384.5" x2="771.3" y2="376.3"/></g><circle cx="749.4" cy="384.5" r="10.5" fill="url(#sunC)"/>
<circle cx="896.3" cy="684.5" r="76" fill="url(#sunG)"/><g stroke="#fffbe6" stroke-opacity="0.55" stroke-width="1.3" filter="url(#b06)"><line x1="896.3" y1="684.5" x2="915.7" y2="683.4"/><line x1="896.3" y1="684.5" x2="915.3" y2="690.8"/><line x1="896.3" y1="684.5" x2="907.3" y2="694.2"/><line x1="896.3" y1="684.5" x2="909.4" y2="702.6"/><line x1="896.3" y1="684.5" x2="899.9" y2="700.4"/><line x1="896.3" y1="684.5" x2="891.2" y2="702.5"/><line x1="896.3" y1="684.5" x2="885.8" y2="700.0"/><line x1="896.3" y1="684.5" x2="884.1" y2="694.1"/><line x1="896.3" y1="684.5" x2="874.8" y2="691.7"/><line x1="896.3" y1="684.5" x2="874.9" y2="684.4"/><line x1="896.3" y1="684.5" x2="882.7" y2="679.0"/><line x1="896.3" y1="684.5" x2="881.8" y2="670.9"/><line x1="896.3" y1="684.5" x2="888.6" y2="672.4"/><line x1="896.3" y1="684.5" x2="894.5" y2="665.9"/><line x1="896.3" y1="684.5" x2="901.3" y2="662.3"/><line x1="896.3" y1="684.5" x2="908.8" y2="664.9"/><line x1="896.3" y1="684.5" x2="912.8" y2="670.0"/><line x1="896.3" y1="684.5" x2="918.2" y2="676.3"/></g><circle cx="896.3" cy="684.5" r="10.5" fill="url(#sunC)"/>
<use href="#g1"/>
<path d="M198,225.7 C190.5,225.7 186.8,221.7 186.8,213.7 L186.8,206 C186.9,204.3 186.8,198.8 187.4,196.0 C188.0,193.2 188.6,191.1 190.2,189.0 C191.8,186.9 194.2,184.9 197.0,183.4 C199.8,181.9 201.1,181.4 207.2,180.0 C213.3,178.6 223.6,176.6 233.6,174.8 C243.6,173.0 253.1,171.2 267.0,169.3 C280.9,167.4 300.3,165.4 317.0,163.4 C333.7,161.4 353.2,159.0 367.0,157.6 C380.8,156.2 383.9,156.5 400.0,155.0 C416.1,153.5 439.1,150.9 463.6,148.4 C488.1,145.9 519.3,142.2 547.0,140.0 C574.7,137.8 604.5,136.3 630.0,135.0 C655.5,133.7 680.1,132.7 700.0,132.0 C719.9,131.3 733.1,131.0 749.6,131.0 C766.1,131.0 779.3,131.3 799.2,132.0 C819.1,132.7 843.7,133.7 869.2,135.0 C894.7,136.3 924.5,137.8 952.2,140.0 C979.9,142.2 1011.1,145.9 1035.6,148.4 C1060.1,150.9 1083.1,153.5 1099.2,155.0 C1115.3,156.5 1118.4,156.2 1132.2,157.6 C1146.0,159.0 1165.5,161.4 1182.2,163.4 C1198.9,165.4 1218.3,167.4 1232.2,169.3 C1246.1,171.2 1255.6,173.0 1265.6,174.8 C1275.6,176.6 1285.9,178.6 1292.0,180.0 C1298.1,181.4 1299.4,181.9 1302.2,183.4 C1305.0,184.9 1307.4,186.9 1309.0,189.0 C1310.6,191.1 1311.2,193.2 1311.8,196.0 C1312.4,198.8 1312.3,204.3 1312.4,206.0 L1312.4,213.7 C1312.4,221.7 1308.7,225.7 1301.2,225.7 Z" fill="#ecf5fa" transform="translate(0,300)"/>
<g transform="translate(0,300)"><use href="#g2"/><use href="#g2" transform="translate(1499.2,0) scale(-1,1)"/><g fill="#8faabd"><circle cx="738.2" cy="208.3" r="1.1"/><circle cx="741.9" cy="208.3" r="1.1"/><circle cx="745.7" cy="208.3" r="1.1"/><circle cx="749.4" cy="208.3" r="1.1"/><circle cx="753.2" cy="208.3" r="1.1"/><circle cx="756.9" cy="208.3" r="1.1"/><circle cx="760.6" cy="208.3" r="1.1"/><circle cx="740.1" cy="212.0" r="1.1"/><circle cx="743.8" cy="212.0" r="1.1"/><circle cx="747.6" cy="212.0" r="1.1"/><circle cx="751.3" cy="212.0" r="1.1"/><circle cx="755.0" cy="212.0" r="1.1"/><circle cx="758.8" cy="212.0" r="1.1"/><circle cx="738.2" cy="215.8" r="1.1"/><circle cx="741.9" cy="215.8" r="1.1"/><circle cx="745.7" cy="215.8" r="1.1"/><circle cx="749.4" cy="215.8" r="1.1"/><circle cx="753.2" cy="215.8" r="1.1"/><circle cx="756.9" cy="215.8" r="1.1"/><circle cx="760.6" cy="215.8" r="1.1"/><circle cx="740.1" cy="219.5" r="1.1"/><circle cx="743.8" cy="219.5" r="1.1"/><circle cx="747.6" cy="219.5" r="1.1"/><circle cx="751.3" cy="219.5" r="1.1"/><circle cx="755.0" cy="219.5" r="1.1"/><circle cx="758.8" cy="219.5" r="1.1"/><circle cx="738.2" cy="223.3" r="1.1"/><circle cx="741.9" cy="223.3" r="1.1"/><circle cx="745.7" cy="223.3" r="1.1"/><circle cx="749.4" cy="223.3" r="1.1"/><circle cx="753.2" cy="223.3" r="1.1"/><circle cx="756.9" cy="223.3" r="1.1"/><circle cx="760.6" cy="223.3" r="1.1"/></g>
<path d="M730.1,137.0 L733.6,132.3 L742.6,133.0 L749.6,134.5 L756.6,133.0 L765.6,132.3 L769.1,137.0 L768.6,145.0 L764.6,153.0 L762.1,162.0 L762.6,200.0 L757.6,205.5 L741.6,205.5 L736.6,200.0 L737.1,162.0 L734.6,153.0 L730.6,145.0Z" fill="#ddd" filter="url(#cl)" opacity="0.92"/>
</g>
<use href="#g1" transform="translate(1499.0,600) scale(-1,1)"/>
<g fill="none" stroke="#141414"><path d="M186.5,226.7 H1312.5" stroke-width="2.2"/><path d="M186.2,253.0 H1312.8" stroke-width="2"/><path d="M187.0,253.0 V262.4 M374.4,253.0 V262.4 M561.9,253.0 V262.4 M749.4,253.0 V262.4 M936.9,253.0 V262.4 M1124.4,253.0 V262.4 M1312.0,253.0 V262.4 " stroke-width="1.9"/></g>
<g fill="none" stroke="#141414"><path d="M186.5,526.7 H1312.5" stroke-width="2.2"/><path d="M186.2,553.0 H1312.8" stroke-width="2"/><path d="M187.0,553.0 V562.4 M374.4,553.0 V562.4 M561.9,553.0 V562.4 M749.4,553.0 V562.4 M936.9,553.0 V562.4 M1124.4,553.0 V562.4 M1312.0,553.0 V562.4 " stroke-width="1.9"/></g>
<g fill="none" stroke="#141414"><path d="M186.5,826.7 H1312.5" stroke-width="2.2"/><path d="M186.2,853.0 H1312.8" stroke-width="2"/><path d="M187.0,853.0 V862.4 M374.4,853.0 V862.4 M561.9,853.0 V862.4 M749.4,853.0 V862.4 M936.9,853.0 V862.4 M1124.4,853.0 V862.4 M1312.0,853.0 V862.4 " stroke-width="1.9"/></g>
<g fill="#141414" stroke="#141414" stroke-width="0.35" stroke-linejoin="round">
<text x="57.2" y="119.4" font-size="18.2" textLength="142.8" lengthAdjust="spacingAndGlyphs" xml:space="preserve">JUNE  SOLSTICE</text>
<text x="53.9" y="419.4" font-size="18.2" textLength="108.2" lengthAdjust="spacingAndGlyphs" xml:space="preserve">EQUINOXES</text>
<text x="54.2" y="719.4" font-size="18.2" textLength="198.0" lengthAdjust="spacingAndGlyphs" xml:space="preserve">DECEMBER  SOLSTICE</text>
<text x="191.6" y="206.4" font-size="17.0" textLength="92.4" lengthAdjust="spacingAndGlyphs" xml:space="preserve">Polar  cell</text>
<text x="329.6" y="197.4" font-size="17.0" textLength="99.1" lengthAdjust="spacingAndGlyphs" xml:space="preserve">Ferrel  cell</text>
<text x="502.4" y="187.7" font-size="17.0" textLength="108.6" lengthAdjust="spacingAndGlyphs" xml:space="preserve">Hadley  cell</text>
<text x="635.0" y="187.7" font-size="17.0" textLength="41.3" lengthAdjust="spacingAndGlyphs" xml:space="preserve">ITCZ</text>
<text x="698.8" y="187.7" font-size="17.0" textLength="108.7" lengthAdjust="spacingAndGlyphs" xml:space="preserve">Hadley  cell</text>
<text x="895.9" y="197.4" font-size="17.0" textLength="99.8" lengthAdjust="spacingAndGlyphs" xml:space="preserve">Ferrel  cell</text>
<text x="1129.3" y="206.4" font-size="17.0" textLength="92.6" lengthAdjust="spacingAndGlyphs" xml:space="preserve">Polar  cell</text>
<text x="166.2" y="246.6" font-size="17.0" textLength="42.2" lengthAdjust="spacingAndGlyphs" xml:space="preserve">high</text>
<text x="292.5" y="246.6" font-size="17.0" textLength="34.1" lengthAdjust="spacingAndGlyphs" xml:space="preserve">low</text>
<text x="447.2" y="246.6" font-size="17.0" textLength="42.2" lengthAdjust="spacingAndGlyphs" xml:space="preserve">high</text>
<text x="638.8" y="246.6" font-size="17.0" textLength="34.6" lengthAdjust="spacingAndGlyphs" xml:space="preserve">low</text>
<text x="822.2" y="246.6" font-size="17.0" textLength="42.2" lengthAdjust="spacingAndGlyphs" xml:space="preserve">high</text>
<text x="1014.1" y="246.6" font-size="17.0" textLength="34.3" lengthAdjust="spacingAndGlyphs" xml:space="preserve">low</text>
<text x="1290.5" y="246.6" font-size="17.0" textLength="42.5" lengthAdjust="spacingAndGlyphs" xml:space="preserve">high</text>
<text x="1366.6" y="246.6" font-size="17.0" textLength="78.4" lengthAdjust="spacingAndGlyphs" xml:space="preserve">Pressure</text>
<text x="164.9" y="281.6" font-size="17.0" textLength="44.6" lengthAdjust="spacingAndGlyphs" xml:space="preserve">90°N</text>
<text x="351.8" y="281.6" font-size="17.0" textLength="44.5" lengthAdjust="spacingAndGlyphs" xml:space="preserve">60°N</text>
<text x="539.9" y="281.6" font-size="17.0" textLength="44.3" lengthAdjust="spacingAndGlyphs" xml:space="preserve">30°N</text>
<text x="713.5" y="281.6" font-size="17.0" textLength="72.3" lengthAdjust="spacingAndGlyphs" xml:space="preserve">Equator</text>
<text x="916.8" y="281.6" font-size="17.0" textLength="42.1" lengthAdjust="spacingAndGlyphs" xml:space="preserve">30°S</text>
<text x="1103.3" y="281.6" font-size="17.0" textLength="43.0" lengthAdjust="spacingAndGlyphs" xml:space="preserve">60°S</text>
<text x="1291.0" y="281.6" font-size="17.0" textLength="42.1" lengthAdjust="spacingAndGlyphs" xml:space="preserve">90°S</text>
<text x="1366.6" y="281.6" font-size="17.0" textLength="77.9" lengthAdjust="spacingAndGlyphs" xml:space="preserve">Latitude</text>
<text x="230.4" y="506.4" font-size="17.0" textLength="92.0" lengthAdjust="spacingAndGlyphs" xml:space="preserve">Polar  cell</text>
<text x="409.6" y="497.4" font-size="17.0" textLength="99.3" lengthAdjust="spacingAndGlyphs" xml:space="preserve">Ferrel  cell</text>
<text x="597.4" y="487.7" font-size="17.0" textLength="108.6" lengthAdjust="spacingAndGlyphs" xml:space="preserve">Hadley  cell</text>
<text x="728.6" y="487.7" font-size="17.0" textLength="40.5" lengthAdjust="spacingAndGlyphs" xml:space="preserve">ITCZ</text>
<text x="792.5" y="487.7" font-size="17.0" textLength="108.4" lengthAdjust="spacingAndGlyphs" xml:space="preserve">Hadley  cell</text>
<text x="989.5" y="497.4" font-size="17.0" textLength="99.1" lengthAdjust="spacingAndGlyphs" xml:space="preserve">Ferrel  cell</text>
<text x="1177.4" y="506.4" font-size="17.0" textLength="92.3" lengthAdjust="spacingAndGlyphs" xml:space="preserve">Polar  cell</text>
<text x="166.2" y="546.6" font-size="17.0" textLength="42.2" lengthAdjust="spacingAndGlyphs" xml:space="preserve">high</text>
<text x="358.0" y="546.6" font-size="17.0" textLength="34.3" lengthAdjust="spacingAndGlyphs" xml:space="preserve">low</text>
<text x="541.2" y="546.6" font-size="17.0" textLength="42.1" lengthAdjust="spacingAndGlyphs" xml:space="preserve">high</text>
<text x="732.8" y="546.6" font-size="17.0" textLength="34.3" lengthAdjust="spacingAndGlyphs" xml:space="preserve">low</text>
<text x="916.3" y="546.6" font-size="17.0" textLength="42.1" lengthAdjust="spacingAndGlyphs" xml:space="preserve">high</text>
<text x="1107.9" y="546.6" font-size="17.0" textLength="34.2" lengthAdjust="spacingAndGlyphs" xml:space="preserve">low</text>
<text x="1290.5" y="546.6" font-size="17.0" textLength="42.5" lengthAdjust="spacingAndGlyphs" xml:space="preserve">high</text>
<text x="1366.6" y="546.6" font-size="17.0" textLength="78.4" lengthAdjust="spacingAndGlyphs" xml:space="preserve">Pressure</text>
<text x="164.9" y="581.6" font-size="17.0" textLength="44.6" lengthAdjust="spacingAndGlyphs" xml:space="preserve">90°N</text>
<text x="351.8" y="581.6" font-size="17.0" textLength="44.5" lengthAdjust="spacingAndGlyphs" xml:space="preserve">60°N</text>
<text x="539.9" y="581.6" font-size="17.0" textLength="44.3" lengthAdjust="spacingAndGlyphs" xml:space="preserve">30°N</text>
<text x="713.5" y="581.6" font-size="17.0" textLength="72.3" lengthAdjust="spacingAndGlyphs" xml:space="preserve">Equator</text>
<text x="916.8" y="581.6" font-size="17.0" textLength="42.1" lengthAdjust="spacingAndGlyphs" xml:space="preserve">30°S</text>
<text x="1103.3" y="581.6" font-size="17.0" textLength="43.0" lengthAdjust="spacingAndGlyphs" xml:space="preserve">60°S</text>
<text x="1291.0" y="581.6" font-size="17.0" textLength="42.1" lengthAdjust="spacingAndGlyphs" xml:space="preserve">90°S</text>
<text x="1366.6" y="581.6" font-size="17.0" textLength="77.9" lengthAdjust="spacingAndGlyphs" xml:space="preserve">Latitude</text>
<text x="276.4" y="806.8" font-size="17.0" textLength="92.0" lengthAdjust="spacingAndGlyphs" xml:space="preserve">Polar  cell</text>
<text x="503.6" y="797.4" font-size="17.0" textLength="99.0" lengthAdjust="spacingAndGlyphs" xml:space="preserve">Ferrel  cell</text>
<text x="691.0" y="787.7" font-size="17.0" textLength="108.5" lengthAdjust="spacingAndGlyphs" xml:space="preserve">Hadley  cell</text>
<text x="822.2" y="787.7" font-size="17.0" textLength="41.4" lengthAdjust="spacingAndGlyphs" xml:space="preserve">ITCZ</text>
<text x="886.4" y="787.7" font-size="17.0" textLength="108.5" lengthAdjust="spacingAndGlyphs" xml:space="preserve">Hadley  cell</text>
<text x="1069.9" y="797.4" font-size="17.0" textLength="99.5" lengthAdjust="spacingAndGlyphs" xml:space="preserve">Ferrel  cell</text>
<text x="1218.2" y="806.7" font-size="17.0" textLength="92.2" lengthAdjust="spacingAndGlyphs" xml:space="preserve">Polar  cell</text>
<text x="166.2" y="846.6" font-size="17.0" textLength="42.2" lengthAdjust="spacingAndGlyphs" xml:space="preserve">high</text>
<text x="451.7" y="846.6" font-size="17.0" textLength="34.3" lengthAdjust="spacingAndGlyphs" xml:space="preserve">low</text>
<text x="634.5" y="846.6" font-size="17.0" textLength="42.3" lengthAdjust="spacingAndGlyphs" xml:space="preserve">high</text>
<text x="826.6" y="846.6" font-size="17.0" textLength="34.2" lengthAdjust="spacingAndGlyphs" xml:space="preserve">low</text>
<text x="1009.6" y="846.6" font-size="17.0" textLength="42.1" lengthAdjust="spacingAndGlyphs" xml:space="preserve">high</text>
<text x="1173.6" y="846.6" font-size="17.0" textLength="34.3" lengthAdjust="spacingAndGlyphs" xml:space="preserve">low</text>
<text x="1290.5" y="846.6" font-size="17.0" textLength="42.5" lengthAdjust="spacingAndGlyphs" xml:space="preserve">high</text>
<text x="1366.6" y="846.6" font-size="17.0" textLength="78.4" lengthAdjust="spacingAndGlyphs" xml:space="preserve">Pressure</text>
<text x="164.9" y="881.6" font-size="17.0" textLength="44.6" lengthAdjust="spacingAndGlyphs" xml:space="preserve">90°N</text>
<text x="351.8" y="881.6" font-size="17.0" textLength="44.5" lengthAdjust="spacingAndGlyphs" xml:space="preserve">60°N</text>
<text x="539.9" y="881.6" font-size="17.0" textLength="44.3" lengthAdjust="spacingAndGlyphs" xml:space="preserve">30°N</text>
<text x="713.5" y="881.6" font-size="17.0" textLength="72.3" lengthAdjust="spacingAndGlyphs" xml:space="preserve">Equator</text>
<text x="916.8" y="881.6" font-size="17.0" textLength="42.1" lengthAdjust="spacingAndGlyphs" xml:space="preserve">30°S</text>
<text x="1103.3" y="881.6" font-size="17.0" textLength="43.0" lengthAdjust="spacingAndGlyphs" xml:space="preserve">60°S</text>
<text x="1291.0" y="881.6" font-size="17.0" textLength="42.1" lengthAdjust="spacingAndGlyphs" xml:space="preserve">90°S</text>
<text x="1366.6" y="881.6" font-size="17.0" textLength="77.9" lengthAdjust="spacingAndGlyphs" xml:space="preserve">Latitude</text>
</g>
</svg>
</body></html>
